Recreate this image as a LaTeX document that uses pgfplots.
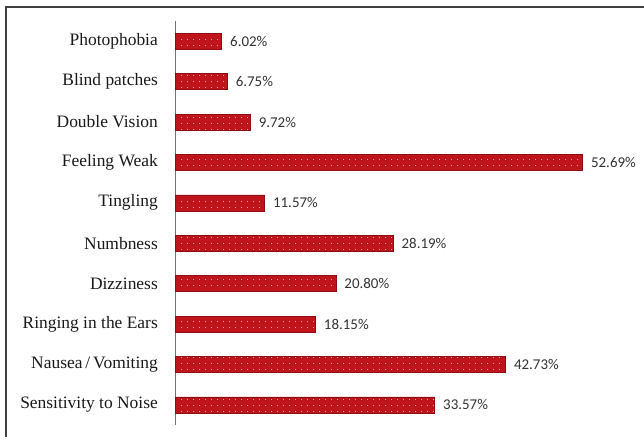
\documentclass[border=0pt]{standalone}
\usepackage{fontspec}
\setmainfont{Liberation Serif}
\newfontfamily\carlito{Carlito}
\usepackage{pgfplots}
\pgfplotsset{compat=1.18}
\usetikzlibrary{patterns.meta}
\definecolor{barred}{HTML}{C0141C}
\definecolor{baredge}{HTML}{8E0E14}
\begin{document}
\begin{tikzpicture}
\path[use as bounding box] (0,0) rectangle (644bp,-437bp);
\draw[line width=2bp, color=black!75] (6bp,-437bp) -- (6bp,-7bp) -- (644bp,-7bp);
\begin{axis}[
  at={(175bp,-21bp)}, anchor=north west,
  scale only axis, width=464bp, height=404bp,
  xmin=0, xmax=60, ymin=-0.5, ymax=9.5,
  y dir=reverse,
  axis x line=none,
  axis y line=left,
  axis line style={-, draw=black!55, line width=0.9bp},
  ytick={0,...,9},
  yticklabels={Photophobia, Blind patches, Double Vision, Feeling Weak, Tingling, Numbness, Dizziness, Ringing in the Ears, Nausea\,/\,Vomiting, Sensitivity to Noise},
  major tick length=0pt,
  yticklabel style={font=\fontsize{17.5}{19}\selectfont, text=black!90, inner sep=0pt, xshift=-17bp},
  xbar, bar width=16bp,
  point meta=x,
  /pgf/number format/assume math mode=true,
  nodes near coords={\pgfmathprintnumber[fixed,fixed zerofill,precision=2,assume math mode=true]{\pgfplotspointmeta}\%},
  every node near coord/.append style={font=\carlito\fontsize{15}{17}\selectfont, text=black!80, xshift=5bp},
  clip=false,
]
\addplot[fill=barred, draw=baredge, line width=0.6bp,
  postaction={pattern={Dots[radius=0.55bp, distance=6bp, xshift=2bp, yshift=2bp]}, pattern color=white!85!barred}]
coordinates {
(6.02,0)
(6.75,1)
(9.72,2)
(52.69,3)
(11.57,4)
(28.19,5)
(20.80,6)
(18.15,7)
(42.73,8)
(33.57,9)
};
\end{axis}
\end{tikzpicture}
\end{document}
